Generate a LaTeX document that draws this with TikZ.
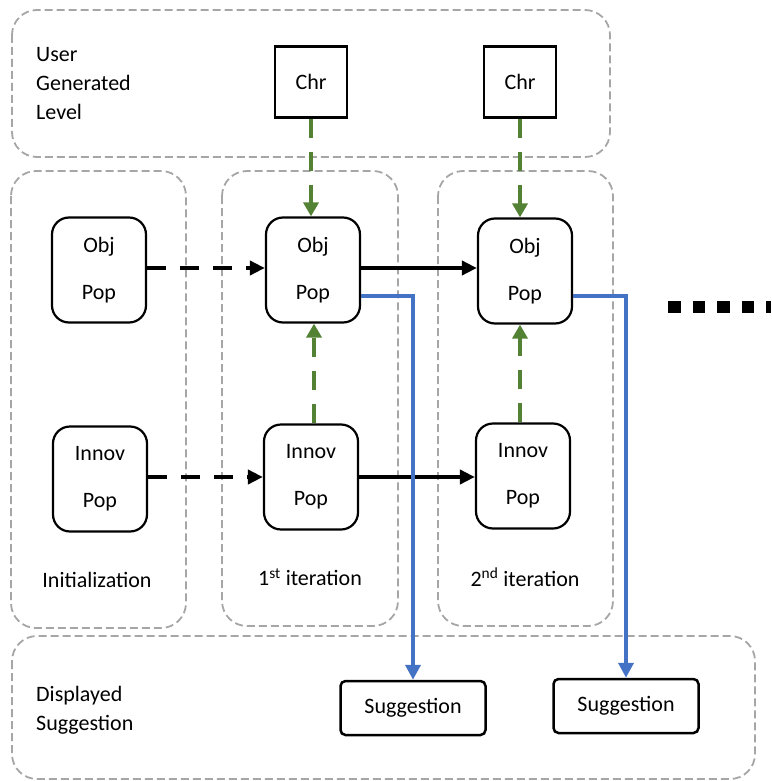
\documentclass[tikz,border=0pt]{standalone}
\usepackage{fontspec}
\setmainfont{Carlito}
\usetikzlibrary{arrows.meta}
\definecolor{grp}{HTML}{A6A6A6}
\definecolor{grn}{HTML}{548235}
\definecolor{blu}{HTML}{4472C4}
\tikzset{
  group/.style={draw=grp, line width=1.8pt, dash pattern=on 8pt off 4pt, rounded corners=25pt},
  pop/.style={draw, line width=2.2pt, rounded corners=17pt, minimum width=94pt, minimum height=105pt, align=center, inner sep=0pt, font=\fontsize{22}{47}\selectfont},
  chr/.style={draw, line width=2.5pt, minimum width=72pt, minimum height=71pt, inner sep=0pt, font=\fontsize{22}{27}\selectfont},
  sug/.style={draw, line width=2.5pt, rounded corners=5pt, minimum width=145pt, minimum height=54pt, inner sep=0pt, font=\fontsize{22}{27}\selectfont},
  lbl/.style={font=\fontsize{22}{29}\selectfont, align=left, inner sep=0pt},
  blk/.style={line width=4pt, -{Triangle[length=15pt,width=14pt]}},
  blkd/.style={blk, dash pattern=on 19pt off 14pt},
  grd/.style={draw=grn, line width=4pt, dash pattern=on 19pt off 14pt, -{Triangle[length=14pt,width=15pt]}},
  blue/.style={draw=blu, line width=4pt, -{Triangle[length=15pt,width=15pt]}},
}
\begin{document}
\begin{tikzpicture}[x=1pt,y=-1pt]
\useasboundingbox (0,0) rectangle (771,781);
% groups
\draw[group] (12,10) rectangle (610,157);
\draw[group] (11,171) rectangle (186,628);
\draw[group] (222,171) rectangle (398,626);
\draw[group] (438,171) rectangle (613,626);
\draw[group] (12,636) rectangle (755,779);
% labels
\node[lbl, anchor=west] (ugl) at (36,84) {User\\Generated\\Level};
\node[lbl, anchor=west] (ds) at (36,710) {Displayed\\Suggestion};
\node[lbl] (init) at (97,580) {Initialization};
\node[lbl] (it1) at (310,577) {1\textsuperscript{st} iteration};
\node[lbl] (it2) at (525,577) {2\textsuperscript{nd} iteration};
% nodes
\node[chr] (chr1) at (311,82) {Chr};
\node[chr] (chr2) at (520,82) {Chr};
\node[pop] (obj0) at (99,270) {Obj\\Pop};
\node[pop] (obj1) at (313,270) {Obj\\Pop};
\node[pop] (obj2) at (525,271) {Obj\\Pop};
\node[pop] (inn0) at (100,479) {Innov\\Pop};
\node[pop] (inn1) at (311,477) {Innov\\Pop};
\node[pop] (inn2) at (523,476) {Innov\\Pop};
\node[sug] (sug1) at (413,708) {Suggestion};
\node[sug] (sug2) at (626,706) {Suggestion};
% connectors
\draw[blkd] (obj0.east |- 0,268) -- (obj1.west |- 0,268);
\draw[blk] (obj1.east |- 0,268) -- (obj2.west |- 0,268);
\draw[blkd] (inn0.east |- 0,477) -- (inn1.west |- 0,477);
\draw[blk] (inn1.east |- 0,477) -- (inn2.west |- 0,477);
\draw[grd] (chr1.south) -- (chr1.south |- obj1.north);
\draw[grd] (chr2.south) -- (chr2.south |- obj2.north);
\draw[grd] (inn1.north -| 314,0) -- (obj1.south -| 314,0);
\draw[grd] (inn2.north -| 520,0) -- (obj2.south -| 520,0);
\draw[blue] (obj1.east |- 0,296) -| (sug1.north);
\draw[blue] (obj2.east |- 0,296) -| (sug2.north);
% continuation
\coordinate (dA) at (668,307);
\coordinate (dB) at (771,307);
\draw[line width=12pt, dash pattern=on 12.5pt off 12pt] (dA) -- (dB);
\end{tikzpicture}
\end{document}
